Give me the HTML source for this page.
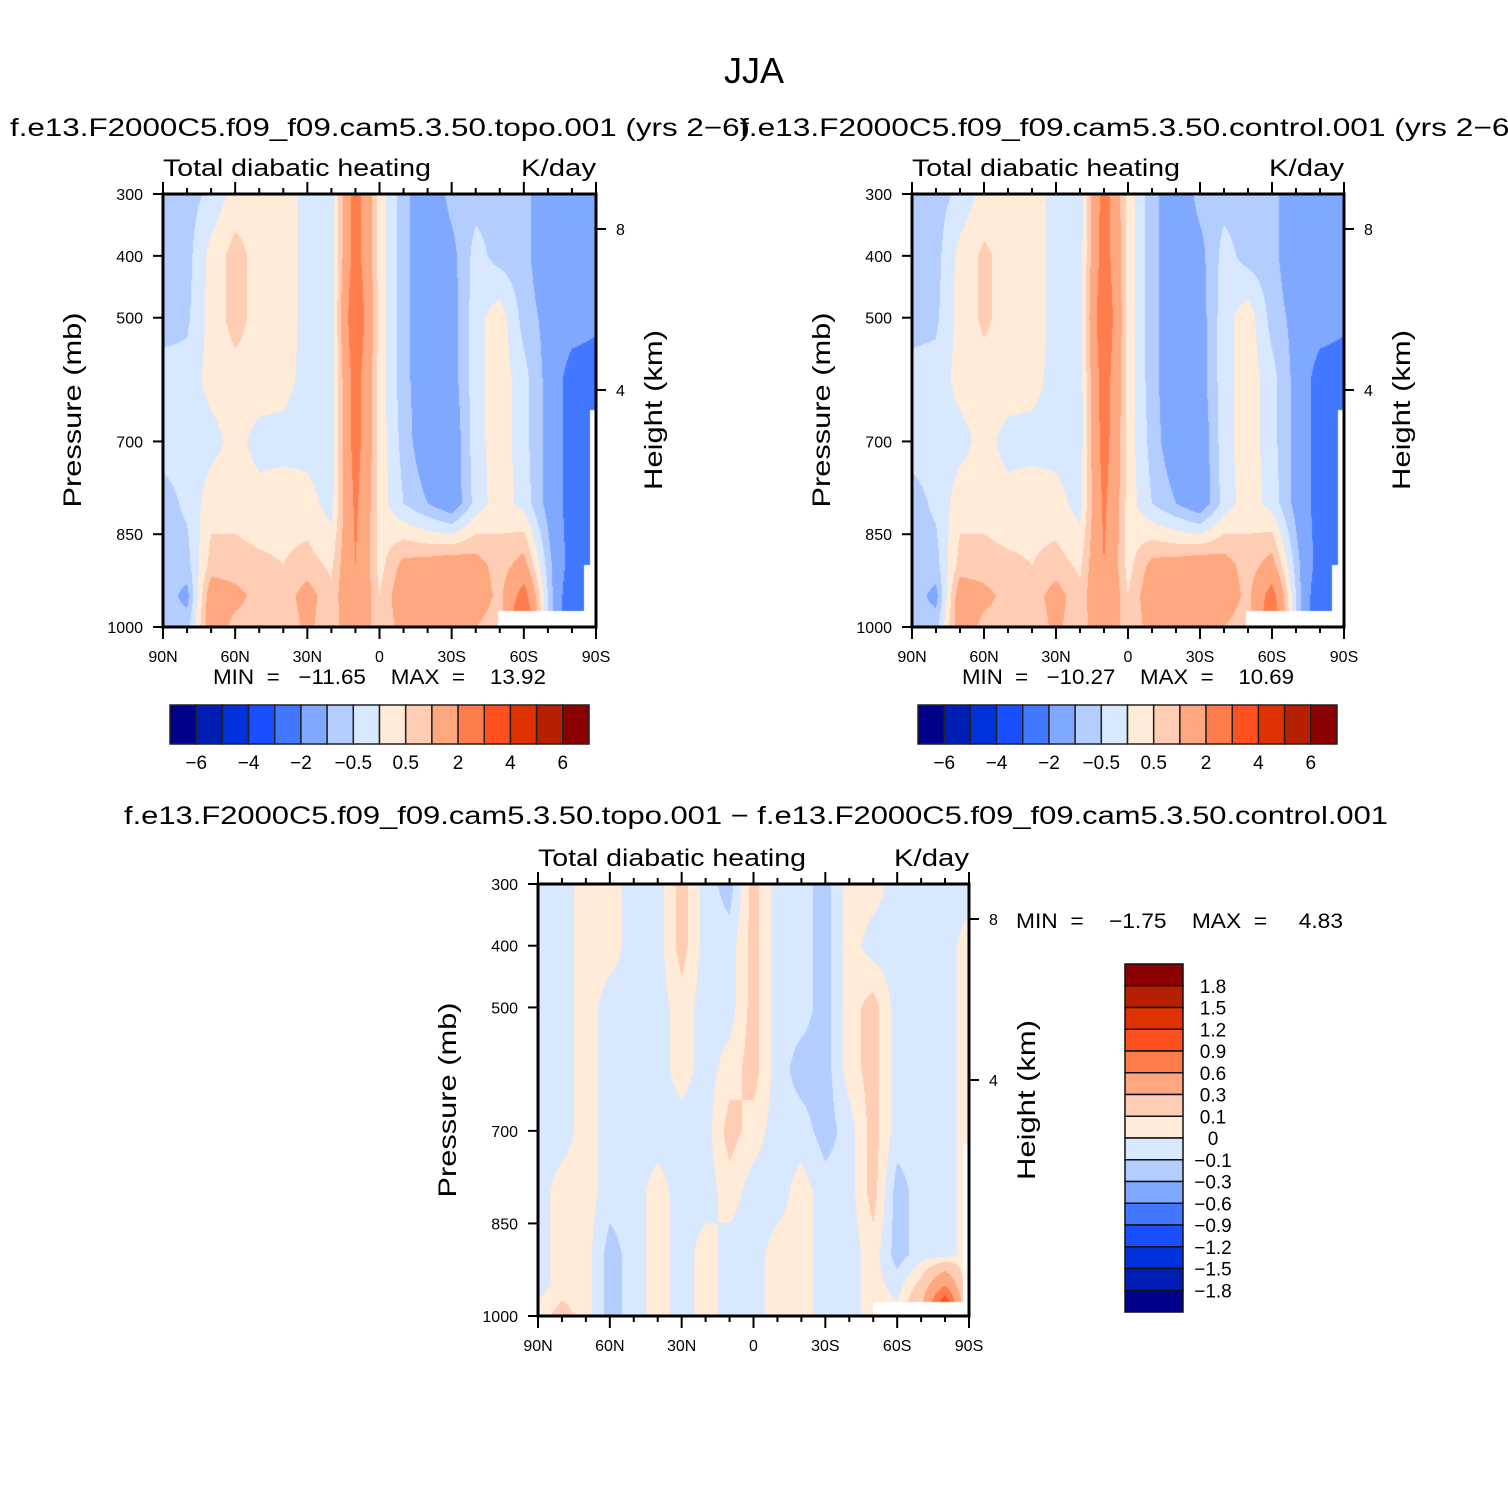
<!DOCTYPE html>
<html><head><meta charset="utf-8">
<style>
html,body{margin:0;padding:0;background:#fff;width:1508px;height:1508px;overflow:hidden;position:relative}
canvas{position:absolute}
svg{position:absolute;left:0;top:0}
text{font-family:"Liberation Sans",sans-serif;fill:#000}
</style></head>
<body>
<canvas id="c1" style="left:163px;top:194px" width="433" height="433"></canvas>
<canvas id="c2" style="left:912px;top:194px" width="432" height="433"></canvas>
<canvas id="c3" style="left:538px;top:884px" width="431" height="432"></canvas>
<svg id="svg" width="1508" height="1508"></svg>
<script>
// ---- data ----
const lats = ["90N","80N","70N","60N","50N","40N","30N","20N","10N","0","10S","20S","30S","40S","50S","60S","70S","80S","90S"];
const levels = [300,400,500,600,700,800,900,950,1000];
const topo = [
[-0.7,-0.7,-0.4,0.2,0.3,0.3,-0.2,-0.3,2.5,0.3,-0.8,-1.5,-0.8,-0.7,-0.7,-0.8,-1.5,-1.5,-1.5],
[-0.7,-0.7,0.2,0.7,0.3,0.3,-0.2,-0.3,2.5,0.3,-0.8,-1.5,-1.2,-0.3,-0.7,-0.8,-1.5,-1.5,-1.5],
[-0.7,-0.6,0.2,0.7,0.3,0.3,-0.2,-0.3,3.0,0.3,-0.8,-1.5,-1.3,-0.2,0.3,-0.7,-1.2,-1.5,-1.8],
[-0.3,-0.3,0.2,0.3,0.3,0.2,-0.2,-0.3,2.5,0.3,-0.8,-1.5,-1.3,-0.2,0.3,-0.3,-1.2,-2.5,-2.5],
[-0.3,-0.3,-0.2,0.2,-0.2,-0.2,-0.2,-0.3,2.5,0.3,-0.7,-1.5,-1.5,-0.2,0.3,-0.3,-1.2,-2.5,-3],
[-0.7,-0.4,0.3,0.3,0.2,0.3,0.2,-0.2,2.2,0.3,-0.5,-1.0,-1.5,-0.3,0.3,-0.2,-1.2,-2.5,-3],
[-0.7,-0.7,0.7,0.7,0.6,0.5,0.7,0.4,2.0,0.3,1.2,1.3,1.5,1.3,0.7,1.3,-0.7,-2.5,-3],
[-0.7,-1.2,1.5,1.2,0.8,0.7,1.3,0.6,2.0,0.5,1.5,1.5,1.5,1.5,0.8,2.5,-0.5,-3,-3],
[-0.7,-0.7,1.5,0.8,0.7,0.5,1.2,0.5,2.0,0.5,1.3,1.5,1.3,1.0,0.6,3.5,-0.5,-3,-3]];
const control = [
[-0.7,-0.7,-0.4,0.2,0.3,0.3,-0.2,-0.3,2.5,0.3,-0.8,-1.5,-0.8,-0.7,-0.7,-0.8,-1.5,-1.5,-1.5],
[-0.7,-0.7,0.2,0.6,0.3,0.3,-0.2,-0.3,2.6,0.3,-0.8,-1.5,-1.2,-0.3,-0.7,-0.8,-1.5,-1.5,-1.5],
[-0.7,-0.6,0.2,0.6,0.3,0.3,-0.2,-0.3,3.0,0.3,-0.8,-1.5,-1.3,-0.2,0.3,-0.7,-1.2,-1.5,-1.8],
[-0.3,-0.3,0.2,0.3,0.3,0.2,-0.2,-0.3,2.6,0.3,-0.8,-1.5,-1.3,-0.2,0.3,-0.3,-1.2,-2.5,-2.5],
[-0.3,-0.3,-0.2,0.2,-0.2,-0.2,-0.2,-0.3,2.5,0.3,-0.7,-1.5,-1.5,-0.2,0.3,-0.3,-1.2,-2.5,-3],
[-0.7,-0.4,0.3,0.3,0.2,0.3,0.2,-0.2,2.2,0.3,-0.5,-1.0,-1.5,-0.3,0.3,-0.2,-1.2,-2.5,-3],
[-0.7,-0.7,0.7,0.7,0.6,0.5,0.7,0.4,2.0,0.3,1.2,1.3,1.5,1.3,0.7,1.3,-0.7,-2.5,-3],
[-0.7,-1.2,1.5,1.2,0.8,0.7,1.3,0.6,2.0,0.5,1.5,1.5,1.5,1.5,0.8,2.5,-0.5,-3,-3],
[-0.7,-0.7,1.5,0.8,0.7,0.5,1.2,0.5,2.0,0.5,1.3,1.5,1.3,1.0,0.6,3.0,-0.5,-3,-3]];
const diff = [
[-0.05,-0.05,0.05,0.05,-0.05,-0.05,0.15,-0.05,-0.15,0.15,-0.05,-0.05,-0.15,0.05,0.05,-0.05,-0.05,-0.05,-0.05],
[-0.05,-0.05,0.05,0.05,-0.05,-0.05,0.15,-0.05,-0.05,0.15,-0.05,-0.05,-0.15,0.05,-0.05,-0.05,-0.05,-0.05,0.05],
[-0.05,-0.05,0.05,-0.05,-0.05,-0.05,0.05,-0.05,-0.05,0.15,-0.05,-0.05,-0.15,0.05,0.15,-0.05,-0.05,-0.05,0.05],
[-0.05,-0.05,0.05,-0.05,-0.05,-0.05,0.05,-0.05,0.05,0.15,-0.05,-0.15,-0.15,0.05,0.15,-0.05,-0.05,-0.05,0.05],
[-0.05,-0.05,0.05,-0.05,-0.05,-0.05,-0.05,-0.05,0.15,0.05,-0.05,-0.05,-0.15,-0.05,0.15,-0.05,-0.05,-0.05,0.05],
[-0.05,0.05,0.05,-0.05,-0.05,0.05,-0.05,-0.05,0.05,-0.05,-0.05,0.05,-0.05,-0.05,0.15,-0.15,-0.05,-0.05,0.05],
[-0.05,0.05,0.05,-0.15,-0.05,0.05,-0.05,0.05,-0.05,-0.05,0.05,0.05,-0.05,-0.05,0.05,-0.15,-0.05,-0.05,0.05],
[-0.05,0.05,0.05,-0.15,-0.05,0.05,-0.05,0.05,-0.05,-0.05,0.05,0.05,-0.05,-0.05,0.05,-0.05,0.15,0.6,-0.05],
[0.05,0.15,0.05,-0.15,-0.05,0.05,-0.05,0.05,-0.05,-0.05,0.05,0.05,-0.05,-0.05,0.05,0.05,0.3,1.5,-0.05]];
const levA = [-6,-5,-4,-3,-2,-1,-0.5,0,0.5,1,2,3,4,5,6];
const levB = [-1.8,-1.5,-1.2,-0.9,-0.6,-0.3,-0.1,0,0.1,0.3,0.6,0.9,1.2,1.5,1.8];
const labA = ["","−6","","−4","","−2","","−0.5","","0.5","","2","","4","","6"];
const labB = ["1.8","1.5","1.2","0.9","0.6","0.3","0.1","0","−0.1","−0.3","−0.6","−0.9","−1.2","−1.5","−1.8"];
const colors = ["#00008a","#001eb4","#0032dc","#1a4fff","#4178ff","#80a8ff","#b4cdff","#d7e8ff","#ffebd7","#ffcdb4","#ffa880","#ff7d4c","#ff5020","#e03200","#b42000","#8b0000"];
const pTicks = [300,400,500,700,850,1000];
const latTickLabels = ["90N","60N","30N","0","30S","60S","90S"];

function hex(c){return [parseInt(c.substr(1,2),16),parseInt(c.substr(3,2),16),parseInt(c.substr(5,2),16)];}
const rgb = colors.map(hex);
function cls(v,lev){let i=0;while(i<lev.length&&v>=lev[i])i++;return i;}
function field(id,data,lev,masks){
  const cv=document.getElementById(id),ctx=cv.getContext('2d');
  const W=cv.width,H=cv.height,img=ctx.createImageData(W,H);
  for(let y=0;y<H;y++){
    const p=300+(y+0.5)/H*700;
    let r=0;while(r<levels.length-2&&p>levels[r+1])r++;
    const fy=(p-levels[r])/(levels[r+1]-levels[r]);
    for(let x=0;x<W;x++){
      const gx=(x+0.5)/W*(lats.length-1);
      const c=Math.min(lats.length-2,Math.floor(gx)),fx=gx-c;
      const v=(1-fy)*((1-fx)*data[r][c]+fx*data[r][c+1])+fy*((1-fx)*data[r+1][c]+fx*data[r+1][c+1]);
      let col=rgb[cls(v,lev)];
      for(const m of masks){if(x>=m[0]&&y>=m[1])col=[255,255,255];}
      const k=(y*W+x)*4;img.data[k]=col[0];img.data[k+1]=col[1];img.data[k+2]=col[2];img.data[k+3]=255;
    }
  }
  ctx.putImageData(img,0,0);
}
field('c1',topo,levA,[[427,216],[421,371],[335,417]]);
field('c2',control,levA,[[426,216],[420,371],[334,417]]);
field('c3',diff,levB,[[425,260],[335,418]]);

const NS="http://www.w3.org/2000/svg",svg=document.getElementById('svg');
function el(t,a,txt){const e=document.createElementNS(NS,t);for(const k in a)e.setAttribute(k,a[k]);if(txt!==undefined)e.textContent=txt;svg.appendChild(e);return e;}

let t=el('text',{x:754,y:83,'font-size':36,'text-anchor':'middle'},'JJA');


function panel(x0,y0,w,h,name,title,tx,tw){
  const xs=i=>x0+i/18*w, ys=p=>y0+(p-300)/700*h;
  let e;
  if(title){e=el('text',{x:tx,y:y0-58,'font-size':25,textLength:tw,lengthAdjust:'spacingAndGlyphs'},title);
  }
  e=el('text',{x:x0,y:y0-18,'font-size':24,textLength:268,lengthAdjust:'spacingAndGlyphs'},'Total diabatic heating');
  
  e=el('text',{x:x0+w-75,y:y0-18,'font-size':24,textLength:75,lengthAdjust:'spacingAndGlyphs'},'K/day');
  
  e=el('rect',{x:x0,y:y0,width:w,height:h,fill:'none',stroke:'#000','stroke-width':3});
  
  for(let i=0;i<=18;i++){
    const X=xs(i),maj=i%3==0,L=maj?12:6;
    el('line',{x1:X,y1:y0,x2:X,y2:y0-L,stroke:'#000','stroke-width':2});
    el('line',{x1:X,y1:y0+h,x2:X,y2:y0+h+L,stroke:'#000','stroke-width':2});
    if(maj){e=el('text',{x:X,y:y0+h+35,'font-size':16,'text-anchor':'middle'},latTickLabels[i/3]);
      }
  }
  for(const p of pTicks){
    el('line',{x1:x0,y1:ys(p),x2:x0-10,y2:ys(p),stroke:'#000','stroke-width':2});
    e=el('text',{x:x0-20,y:ys(p)+6,'font-size':16,'text-anchor':'end'},String(p));
    
  }
  [[8,35],[4,196]].forEach(([k,dy])=>{
    el('line',{x1:x0+w,y1:y0+dy,x2:x0+w+10,y2:y0+dy,stroke:'#000','stroke-width':2});
    e=el('text',{x:x0+w+20,y:y0+dy+6,'font-size':16},String(k));
    
  });
  e=el('text',{x:0,y:0,'font-size':25,'text-anchor':'middle',textLength:195,lengthAdjust:'spacingAndGlyphs',transform:`translate(${x0-82},${y0+216}) rotate(-90)`},'Pressure (mb)');
  
  e=el('text',{x:0,y:0,'font-size':25,'text-anchor':'middle',textLength:160,lengthAdjust:'spacingAndGlyphs',transform:`translate(${x0+w+66},${y0+216}) rotate(-90)`},'Height (km)');
  
}
panel(163,194,433,433,'topo-panel','f.e13.F2000C5.f09_f09.cam5.3.50.topo.001  (yrs 2−6)',10,740);
panel(912,194,432,433,'control-panel','f.e13.F2000C5.f09_f09.cam5.3.50.control.001  (yrs 2−6)',740,780);
panel(538,884,431,432,'diff-panel','',0,1);
t=el('text',{x:124,y:824,'font-size':25,textLength:1264,lengthAdjust:'spacingAndGlyphs'},'f.e13.F2000C5.f09_f09.cam5.3.50.topo.001  −  f.e13.F2000C5.f09_f09.cam5.3.50.control.001');


function minmax(x,y,s,len,name){const e=el('text',{x:x,y:y,'font-size':21,textLength:len,lengthAdjust:'spacingAndGlyphs',style:'white-space:pre'},s);
  }
minmax(213,684,'MIN  =   −11.65    MAX  =    13.92',333,'topo-minmax');
minmax(962,684,'MIN  =   −10.27    MAX  =    10.69',332,'control-minmax');
minmax(1016,928,'MIN  =    −1.75    MAX  =     4.83',327,'diff-minmax');

function hbar(x0,y0,w,h,name){
  const bw=w/16;
  for(let i=0;i<16;i++){
    const e=el('rect',{x:x0+i*bw,y:y0,width:bw,height:h,fill:colors[i],stroke:'#222','stroke-width':1.5});
    
    if(labA[i]){const l=el('text',{x:x0+i*bw,y:y0+h+25,'font-size':19,'text-anchor':'middle'},labA[i]);
      }
  }
}
hbar(170,705,419,39,'topo-colorbar');
hbar(918,705,419,39,'control-colorbar');
(function(){
  const x0=1125,y0=964,w=58,h=348,bh=h/16;
  for(let i=0;i<16;i++){
    const e=el('rect',{x:x0,y:y0+i*bh,width:w,height:bh,fill:colors[15-i],stroke:'#111','stroke-width':1.5});
    
  }
  for(let i=0;i<15;i++){
    const l=el('text',{x:1213,y:y0+(i+1)*bh+7,'font-size':19,'text-anchor':'middle'},labB[i]);
    
  }
})();
</script>
</body></html>
